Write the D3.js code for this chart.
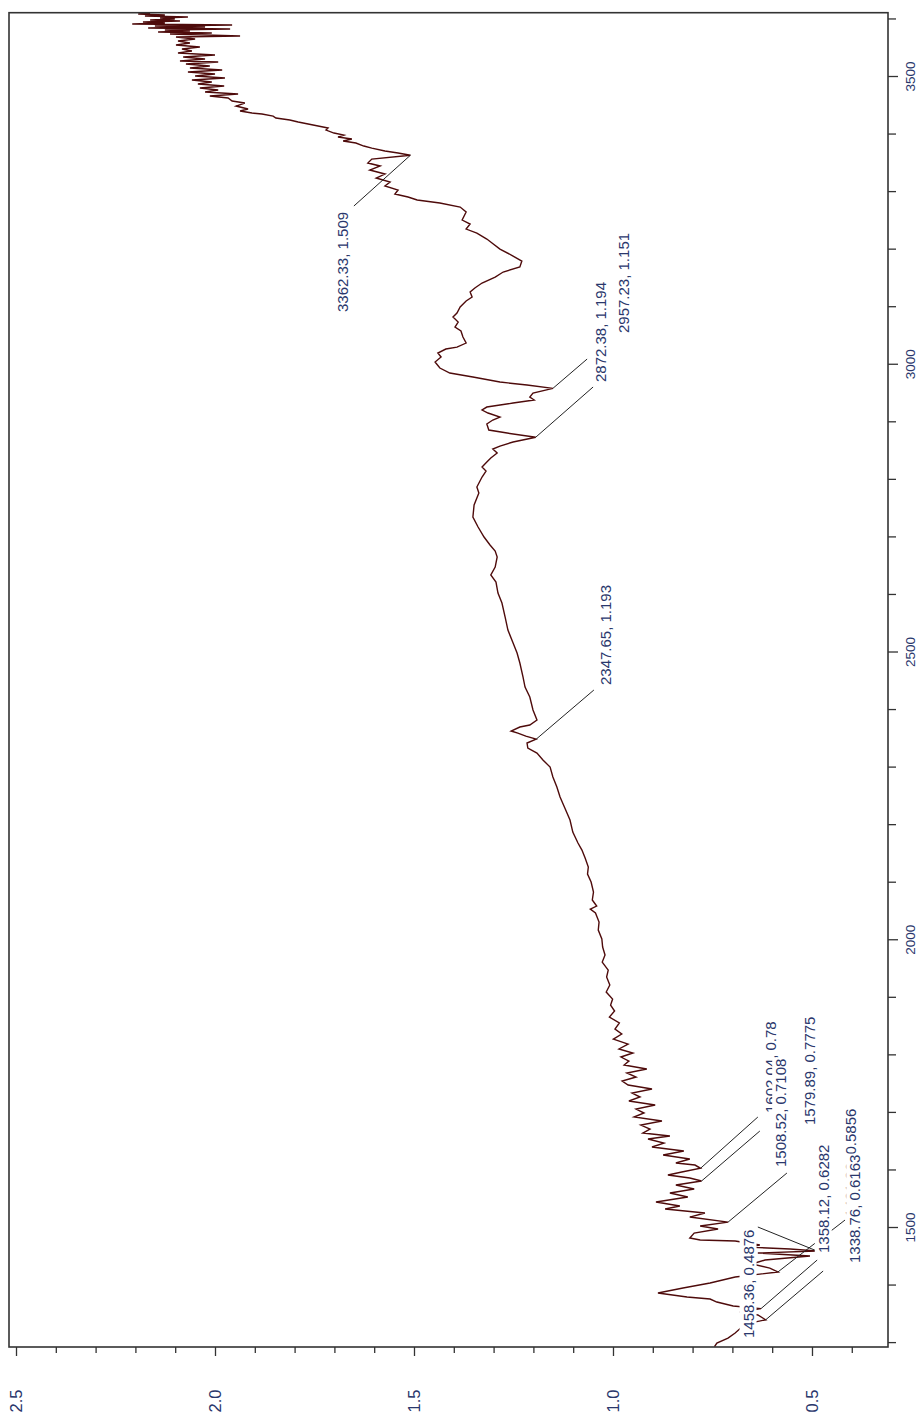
<!DOCTYPE html>
<html>
<head>
<meta charset="utf-8">
<script src="https://cdn.jsdelivr.net/npm/d3@7"></script>
<style>
  html, body { margin: 0; padding: 0; background: #ffffff; }
  svg { display: block; }
</style>
</head>
<body>
<svg id="chart" width="922" height="1416"></svg>
<script>
// IR spectrum, drawn rotated: wavenumber runs up the right edge, absorbance decreases to the right.
const wavenumbers = [
  3609.4, 3607.7, 3605.9, 3604.2, 3602.5, 3600.7, 3599.0, 3597.2, 3595.5, 3593.8,
  3592.0, 3590.3, 3588.6, 3586.8, 3585.1, 3583.3, 3581.6, 3579.9, 3578.1, 3576.4,
  3574.7, 3572.9, 3569.4, 3567.7, 3564.2, 3560.8, 3557.3, 3553.8, 3550.3, 3546.9,
  3543.4, 3539.9, 3536.4, 3533.0, 3529.5, 3526.0, 3524.3, 3520.8, 3517.3, 3513.8,
  3510.4, 3506.9, 3503.4, 3499.9, 3496.5, 3493.0, 3489.5, 3486.0, 3482.6, 3479.1,
  3475.6, 3472.1, 3468.7, 3465.2, 3461.7, 3456.5, 3453.0, 3447.8, 3442.6, 3439.1,
  3435.7, 3433.9, 3430.4, 3427.0, 3423.5, 3420.0, 3416.5, 3413.1, 3409.6, 3406.1,
  3400.9, 3397.4, 3393.9, 3390.5, 3387.0, 3383.5, 3378.3, 3374.8, 3369.6, 3366.1,
  3362.33, 3355.7, 3348.8, 3343.6, 3336.6, 3329.7, 3322.7, 3315.8, 3308.8, 3301.9,
  3294.9, 3289.7, 3284.5, 3279.3, 3272.3, 3263.6, 3249.7, 3242.8, 3234.1, 3227.1,
  3216.7, 3209.8, 3199.3, 3187.2, 3178.5, 3168.1, 3159.4, 3150.7, 3140.3, 3131.6,
  3124.6, 3115.9, 3109.0, 3098.6, 3088.1, 3081.2, 3072.5, 3063.8, 3056.9, 3046.4,
  3036.0, 3029.0, 3025.6, 3018.6, 3011.7, 3003.0, 2992.6, 2983.9, 2976.9, 2968.2,
  2963.0, 2957.23, 2949.1, 2942.2, 2937.0, 2931.7, 2924.8, 2919.6, 2914.4, 2907.4,
  2902.2, 2895.3, 2884.8, 2879.6, 2872.38, 2864.0, 2857.0, 2851.8, 2844.9, 2836.2,
  2829.2, 2820.5, 2813.6, 2803.2, 2785.8, 2775.4, 2754.5, 2733.7, 2716.3, 2698.9,
  2685.0, 2674.6, 2664.2, 2646.8, 2632.9, 2620.7, 2601.6, 2584.2, 2559.9, 2537.3,
  2514.7, 2497.3, 2480.0, 2455.6, 2438.3, 2420.9, 2398.3, 2380.9, 2372.2, 2368.8,
  2361.8, 2358.3, 2353.1, 2347.65, 2341.0, 2332.3, 2323.6, 2311.4, 2299.3, 2281.9,
  2264.5, 2247.1, 2228.0, 2207.2, 2186.3, 2167.2, 2155.0, 2141.1, 2125.5, 2113.3,
  2099.4, 2082.0, 2068.2, 2057.7, 2052.5, 2045.6, 2029.9, 2016.0, 2000.4, 1986.5,
  1972.6, 1960.4, 1946.5, 1934.4, 1920.5, 1908.3, 1896.1, 1885.7, 1875.3, 1864.9,
  1854.5, 1844.0, 1835.3, 1826.6, 1817.9, 1809.3, 1802.3, 1795.4, 1788.4, 1781.5,
  1774.5, 1767.6, 1760.6, 1753.7, 1746.7, 1739.8, 1732.8, 1725.9, 1718.9, 1712.0,
  1705.0, 1698.1, 1691.1, 1684.2, 1677.2, 1670.3, 1663.3, 1658.1, 1652.9, 1645.9,
  1639.0, 1632.0, 1625.1, 1618.1, 1611.2, 1607.7, 1602.04, 1595.5, 1590.3, 1585.1,
  1579.89, 1572.9, 1566.0, 1559.0, 1552.1, 1543.4, 1536.5, 1531.2, 1524.3, 1517.3,
  1508.52, 1501.7, 1496.5, 1489.5, 1480.9, 1477.4, 1475.6, 1468.7, 1465.2, 1461.7,
  1458.36, 1454.8, 1449.6, 1442.6, 1435.7, 1428.7, 1421.86, 1413.1, 1402.7, 1394.0,
  1385.3, 1378.3, 1374.8, 1369.6, 1362.7, 1358.12, 1352.3, 1347.1, 1338.76, 1331.4,
  1315.8, 1307.1, 1298.4, 1292.0
];
const absorbance = [
  2.163, 2.193, 2.126, 2.176, 2.068, 2.138, 2.101, 2.163, 2.088, 2.181,
  2.126, 2.208, 1.957, 2.151, 2.025, 2.168, 1.962, 2.126, 2.063, 2.143,
  2.008, 2.113, 1.937, 2.098, 2.050, 2.093, 2.063, 2.098, 2.038, 2.083,
  2.058, 2.093, 2.000, 2.080, 2.025, 2.088, 1.992, 2.073, 2.013, 2.063,
  1.982, 2.068, 2.000, 2.050, 1.975, 2.058, 2.008, 2.043, 1.977, 2.038,
  1.992, 2.025, 1.942, 2.013, 1.967, 1.957, 1.925, 1.947, 1.917, 1.937,
  1.907, 1.882, 1.854, 1.847, 1.812, 1.791, 1.766, 1.741, 1.716, 1.721,
  1.701, 1.676, 1.691, 1.656, 1.678, 1.646, 1.626, 1.606, 1.573, 1.540,
  1.509, 1.606, 1.616, 1.585, 1.611, 1.573, 1.595, 1.560, 1.573, 1.540,
  1.548, 1.515, 1.492, 1.435, 1.384, 1.369, 1.379, 1.359, 1.369, 1.342,
  1.317, 1.304, 1.284, 1.251, 1.229, 1.234, 1.276, 1.296, 1.329, 1.347,
  1.359, 1.354, 1.369, 1.384, 1.392, 1.402, 1.389, 1.397, 1.382, 1.377,
  1.369, 1.392, 1.420, 1.440, 1.432, 1.447, 1.435, 1.410, 1.352, 1.284,
  1.216, 1.151, 1.201, 1.209, 1.198, 1.251, 1.317, 1.329, 1.314, 1.284,
  1.302, 1.317, 1.312, 1.266, 1.194, 1.251, 1.284, 1.302, 1.291, 1.307,
  1.317, 1.329, 1.319, 1.329, 1.342, 1.337, 1.349, 1.352, 1.339, 1.324,
  1.309, 1.296, 1.291, 1.296, 1.307, 1.294, 1.289, 1.279, 1.271, 1.264,
  1.251, 1.241, 1.234, 1.226, 1.221, 1.209, 1.201, 1.191, 1.209, 1.234,
  1.256, 1.239, 1.219, 1.193, 1.216, 1.214, 1.191, 1.176, 1.158, 1.151,
  1.141, 1.133, 1.121, 1.108, 1.101, 1.088, 1.078, 1.070, 1.062, 1.064,
  1.055, 1.049, 1.052, 1.041, 1.057, 1.044, 1.035, 1.037, 1.028, 1.026,
  1.020, 1.027, 1.012, 1.016, 1.008, 1.017, 1.001, 1.006, 0.996, 1.009,
  0.984, 0.995, 0.978, 0.999, 0.962, 0.985, 0.950, 0.980, 0.960, 0.972,
  0.915, 0.965, 0.942, 0.977, 0.962, 0.902, 0.952, 0.932, 0.960, 0.894,
  0.942, 0.922, 0.947, 0.877, 0.930, 0.907, 0.925, 0.857, 0.912, 0.872,
  0.902, 0.822, 0.874, 0.807, 0.842, 0.794, 0.78, 0.827, 0.862, 0.807,
  0.7775, 0.842, 0.796, 0.857, 0.812, 0.892, 0.832, 0.869, 0.769, 0.807,
  0.7108, 0.781, 0.736, 0.796, 0.807, 0.781, 0.693, 0.631, 0.661, 0.555,
  0.4876, 0.636, 0.505, 0.618, 0.651, 0.606, 0.5856, 0.693, 0.756, 0.824,
  0.887, 0.814, 0.756, 0.739, 0.698, 0.6282, 0.681, 0.636, 0.6163, 0.668,
  0.693, 0.711, 0.739, 0.745
];

// Picked peaks (wavenumber, absorbance); each label is printed from these values
const peakWavenumbers = [3362.33, 2957.23, 2872.38, 2347.65, 1602.04, 1579.89, 1508.52, 1421.86, 1458.36, 1358.12, 1338.76];
const peakAbsorbance  = [1.509, 1.151, 1.194, 1.193, 0.78, 0.7775, 0.7108, 0.5856, 0.4876, 0.6282, 0.6163];

// Axis ticks
const wavenumberTicks = [1500, 2000, 2500, 3000, 3500];
const wavenumberMinorTicks = [1300, 1400, 1600, 1700, 1800, 1900, 2100, 2200, 2300, 2400, 2600, 2700, 2800, 2900, 3100, 3200, 3300, 3400, 3600];
const absorbanceTicks = [2.5, 2.0, 1.5, 1.0, 0.5];
const absorbanceTickLabels = ["2.5", "2.0", "1.5", "1.0", "0.5"];
const absorbanceMinorTicks = [2.4, 2.3, 2.2, 2.1, 1.9, 1.8, 1.7, 1.6, 1.4, 1.3, 1.2, 1.1, 0.9, 0.8, 0.7, 0.6, 0.4];

// Callout layout in data units: where each leader line stops, and where its label text starts
const leaderEnds = [
  [3274.1, 1.651], [3008.2, 1.065], [2959.6, 1.050], [2433.1, 1.048],
  [1691.1, 0.636], [1666.8, 0.631], [1593.8, 0.563], [1512.1, 0.417],
  [1500.0, 0.636], [1442.6, 0.487], [1423.5, 0.472]
];
const labelAnchors = [
  [3089.9, 1.678], [3053.4, 0.974], [2968.2, 1.031], [2441.7, 1.019],
  [1698.0, 0.603], [1677.2, 0.505], [1604.2, 0.578], [1517.3, 0.402],
  [1307.1, 0.660], [1454.8, 0.471], [1437.4, 0.392]
];

const svg = d3.select("#chart");
const frame = { left: 9, right: 888, top: 12.7, bottom: 1347 };

const x = d3.scaleLinear().domain([2.5176, 0.309]).range([frame.left, frame.right]);
const y = d3.scaleLinear().domain([1291.5, 3610]).range([frame.bottom, frame.top]);

const inkAxis = "#333333";
const inkText = "#2a376c";
const inkTrace = "#4e0b0b";

svg.append("defs").append("clipPath").attr("id", "plotClip")
  .append("rect")
  .attr("x", frame.left).attr("y", frame.top)
  .attr("width", frame.right - frame.left).attr("height", frame.bottom - frame.top);

// Spectrum trace
const line = d3.line()
  .x((d, i) => x(absorbance[i]))
  .y(d => y(d));

svg.append("path")
  .datum(wavenumbers)
  .attr("clip-path", "url(#plotClip)")
  .attr("fill", "none")
  .attr("stroke", inkTrace)
  .attr("stroke-width", 1.4)
  .attr("stroke-linejoin", "miter")
  .attr("d", line);

// Bottom axis (absorbance)
function styleAxis(g) {
  g.select(".domain").remove();
  g.selectAll(".tick line").attr("stroke", inkAxis).attr("stroke-width", 1.3);
}

svg.append("g")
  .attr("transform", `translate(0,${frame.bottom})`)
  .call(d3.axisBottom(x).tickValues(absorbanceMinorTicks).tickSize(6).tickFormat(""))
  .call(styleAxis);

const bottomAxis = svg.append("g")
  .attr("transform", `translate(0,${frame.bottom})`)
  .call(d3.axisBottom(x).tickValues(absorbanceTicks).tickSize(9)
    .tickFormat((d, i) => absorbanceTickLabels[i]))
  .call(styleAxis);

bottomAxis.selectAll(".tick text")
  .attr("x", null).attr("y", null)
  .attr("dy", "0.35em")
  .attr("transform", "translate(0,54) rotate(-90)")
  .attr("text-anchor", "middle")
  .attr("fill", inkText)
  .style("font-family", "'Liberation Sans', Arial, sans-serif")
  .style("font-size", "16.5px");

// Right axis (wavenumber)
svg.append("g")
  .attr("transform", `translate(${frame.right},0)`)
  .call(d3.axisRight(y).tickValues(wavenumberMinorTicks).tickSize(8).tickFormat(""))
  .call(styleAxis);

const rightAxis = svg.append("g")
  .attr("transform", `translate(${frame.right},0)`)
  .call(d3.axisRight(y).tickValues(wavenumberTicks).tickSize(10).tickFormat(d3.format("d")))
  .call(styleAxis);

rightAxis.selectAll(".tick text")
  .attr("x", null).attr("y", null)
  .attr("dy", "0.35em")
  .attr("transform", "translate(22,0) rotate(-90)")
  .attr("text-anchor", "middle")
  .attr("fill", inkText)
  .style("font-family", "'Liberation Sans', Arial, sans-serif")
  .style("font-size", "13.5px");

// Plot frame
svg.append("rect")
  .attr("x", frame.left).attr("y", frame.top)
  .attr("width", frame.right - frame.left).attr("height", frame.bottom - frame.top)
  .attr("fill", "none")
  .attr("stroke", inkAxis)
  .attr("stroke-width", 1.6);

// Peak callouts: leader lines first, then boxed labels on top
const callouts = svg.append("g");

peakWavenumbers.forEach((w, i) => {
  callouts.append("line")
    .attr("x1", x(peakAbsorbance[i])).attr("y1", y(w))
    .attr("x2", x(leaderEnds[i][1])).attr("y2", y(leaderEnds[i][0]))
    .attr("stroke", "#222222")
    .attr("stroke-width", 1);
});

peakWavenumbers.forEach((w, i) => {
  const g = callouts.append("g")
    .attr("transform", `translate(${x(labelAnchors[i][1])},${y(labelAnchors[i][0])}) rotate(-90)`);
  const box = g.append("rect").attr("fill", "#ffffff");
  const t = g.append("text")
    .attr("dy", "0.35em")
    .attr("text-anchor", "start")
    .attr("fill", inkText)
    .style("font-family", "'Liberation Sans', Arial, sans-serif")
    .style("font-size", "15px")
    .text(`${w}, ${peakAbsorbance[i]}`);
  const bb = t.node().getBBox();
  box.attr("x", bb.x - 1).attr("y", bb.y).attr("width", bb.width + 2).attr("height", bb.height);
});
</script>
</body>
</html>
